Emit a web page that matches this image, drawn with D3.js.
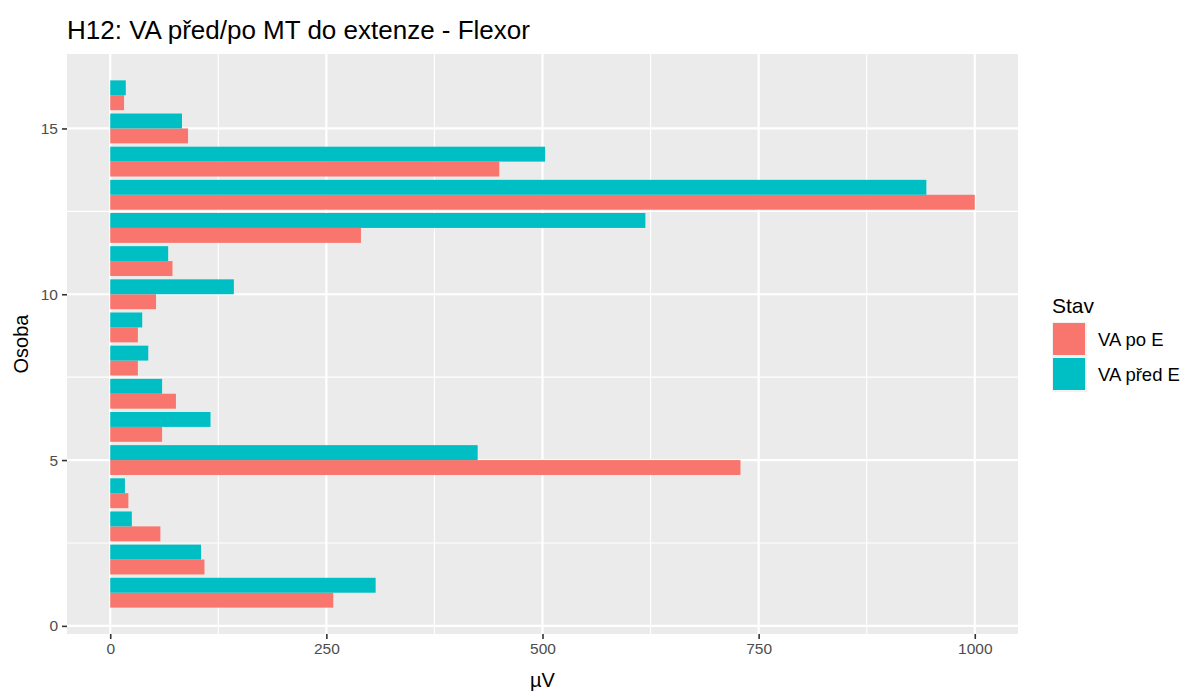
<!DOCTYPE html>
<html>
<head>
<meta charset="utf-8">
<script src="https://cdn.jsdelivr.net/npm/d3@7"></script>
<style>
  body { margin: 0; background: #fff; }
  text { font-family: "Liberation Sans", Arial, sans-serif; }
</style>
</head>
<body>
<svg id="chart" width="1185" height="692"></svg>
<script>
const persons = [1,2,3,4,5,6,7,8,9,10,11,12,13,14,15,16];
const seriesNames = ["VA po E", "VA před E"];
const vaPoE   = [258, 109, 58, 21, 729, 60, 76, 32, 32, 53, 72, 290, 1000, 450, 90, 16];
const vaPredE = [307, 105, 25, 17, 425, 116, 60, 44, 37, 143, 67, 619, 944, 503, 83, 18];
const xTicks = [0, 250, 500, 750, 1000];
const yTicks = [0, 5, 10, 15];
const colors = ["#F8766D", "#00BFC4"];

const svg = d3.select("#chart");
const panel = {left: 67, right: 1018, top: 54, bottom: 634};

const x = d3.scaleLinear().domain([-50, 1050]).range([panel.left, panel.right]);
const y = d3.scaleLinear().domain([-0.245, 17.245]).range([panel.bottom, panel.top]);

// panel background
svg.append("rect").attr("x", panel.left).attr("y", panel.top)
  .attr("width", panel.right - panel.left).attr("height", panel.bottom - panel.top)
  .attr("fill", "#EBEBEB");

// minor grid
const xMinor = [125, 375, 625, 875];
const yMinor = [2.5, 7.5, 12.5];
svg.append("g").selectAll("line").data(xMinor).join("line")
  .attr("x1", d => x(d)).attr("x2", d => x(d))
  .attr("y1", panel.top).attr("y2", panel.bottom)
  .attr("stroke", "#fff").attr("stroke-width", 1.1);
svg.append("g").selectAll("line").data(yMinor).join("line")
  .attr("y1", d => y(d)).attr("y2", d => y(d))
  .attr("x1", panel.left).attr("x2", panel.right)
  .attr("stroke", "#fff").attr("stroke-width", 1.1);
// major grid
svg.append("g").selectAll("line").data(xTicks).join("line")
  .attr("x1", d => x(d)).attr("x2", d => x(d))
  .attr("y1", panel.top).attr("y2", panel.bottom)
  .attr("stroke", "#fff").attr("stroke-width", 2.2);
svg.append("g").selectAll("line").data(yTicks).join("line")
  .attr("y1", d => y(d)).attr("y2", d => y(d))
  .attr("x1", panel.left).attr("x2", panel.right)
  .attr("stroke", "#fff").attr("stroke-width", 2.2);

// bars: dodge width 0.9, first level (VA po E) lower
const data = [];
persons.forEach((p, i) => {
  data.push({p, s: 0, v: vaPoE[i]});
  data.push({p, s: 1, v: vaPredE[i]});
});
const bw = 0.45;
svg.append("g").selectAll("rect").data(data).join("rect")
  .attr("x", x(0))
  .attr("width", d => x(d.v) - x(0))
  .attr("y", d => y(d.p - 0.45 + bw * (d.s + 1)))
  .attr("height", d => y(0) - y(bw))
  .attr("fill", d => colors[d.s]);

// x axis
const xAxis = svg.append("g").attr("transform", `translate(0,${panel.bottom})`)
  .call(d3.axisBottom(x).tickValues(xTicks).tickSize(5).tickPadding(4).tickFormat(d3.format("d")));
xAxis.select(".domain").remove();
xAxis.selectAll("line").attr("stroke", "#333").attr("stroke-width", 1.6);
xAxis.selectAll("text").attr("fill", "#4D4D4D").style("font-size", "15.5px");

// y axis
const yAxis = svg.append("g").attr("transform", `translate(${panel.left},0)`)
  .call(d3.axisLeft(y).tickValues(yTicks).tickSize(5).tickPadding(4));
yAxis.select(".domain").remove();
yAxis.selectAll("line").attr("stroke", "#333").attr("stroke-width", 1.6);
yAxis.selectAll("text").attr("fill", "#4D4D4D").style("font-size", "15.5px");

// axis titles
svg.append("text").attr("x", (panel.left + panel.right) / 2).attr("y", 687)
  .attr("text-anchor", "middle").style("font-size", "20px").attr("fill", "#000").text("µV");
svg.append("text").attr("transform", `translate(28,${(panel.top + panel.bottom) / 2}) rotate(-90)`)
  .attr("text-anchor", "middle").style("font-size", "20px").attr("fill", "#000").text("Osoba");

// title
svg.append("text").attr("x", 67).attr("y", 39)
  .style("font-size", "26px").attr("fill", "#000").text("H12: VA před/po MT do extenze - Flexor");

// legend
const lg = svg.append("g");
lg.append("text").attr("x", 1052).attr("y", 313).style("font-size", "21px").attr("fill", "#000").text("Stav");
seriesNames.forEach((n, i) => {
  lg.append("rect").attr("x", 1052).attr("y", 322 + i * 35).attr("width", 35).attr("height", 35).attr("fill", "#F2F2F2");
  lg.append("rect").attr("x", 1053).attr("y", 323 + i * 35).attr("width", 32).attr("height", 32).attr("fill", colors[i]);
  lg.append("text").attr("x", 1098).attr("y", 346 + i * 35).style("font-size", "18.5px").attr("fill", "#000").text(n);
});
</script>
</body>
</html>
